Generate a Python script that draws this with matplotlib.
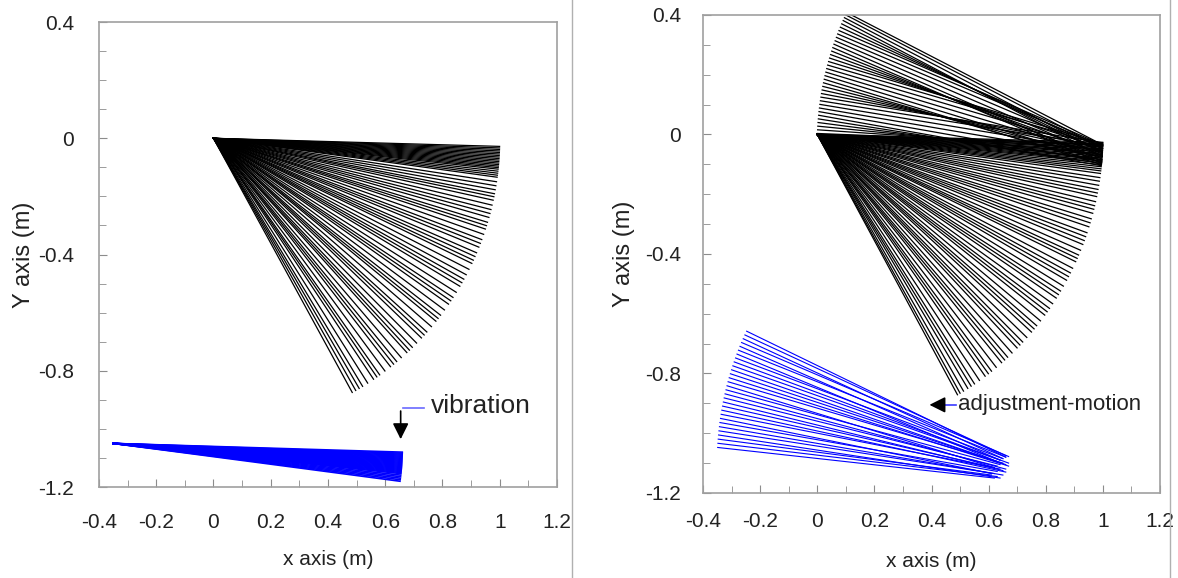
import numpy as np
import matplotlib
matplotlib.use("Agg")
import matplotlib.pyplot as plt
from matplotlib.lines import Line2D

plt.rcParams['font.family'] = ['Liberation Sans', 'DejaVu Sans']
plt.rcParams['axes.unicode_minus'] = False

# ---- datos (angulos en grados, longitudes en m) ----
# panel izquierdo: brazo negro desde el origen (L=1)
left_black = [-1.6, -1.9, -2.2, -2.5, -2.8, -3.1, -3.4, -3.7, -4.0, -4.3, -4.6, -4.9, -5.2,
              -5.5, -5.8, -6.1, -6.5, -6.9, -7.3, -7.7, -8.6, -9.4, -10.2, -11.0, -11.6,
              -12.3, -13.3, -14.2, -15.0, -15.8, -16.8, -17.5, -18.2, -19.3, -20.4, -21.2,
              -22.0, -23.2, -24.0, -24.8, -25.5, -26.8, -28.0, -29.0, -29.8, -30.6, -32.0,
              -33.2, -34.0, -34.8, -36.2, -37.5, -38.3, -39.0, -40.4, -41.8, -42.6, -43.4,
              -44.8, -46.0, -46.8, -47.5, -49.0, -50.2, -51.0, -51.8, -53.2, -54.5, -55.2,
              -56.0, -57.4, -58.6, -59.4, -60.2, -61.0]
# panel izquierdo: barra azul (vibracion), pivote a la izquierda
left_blue_base = (-0.35, -1.05)
left_blue_len = 1.01
left_blue = [-1.7, -1.9, -2.1, -2.3, -2.5, -2.7, -2.9, -3.1, -3.3, -3.5, -3.7, -3.9, -4.1,
             -4.3, -4.5, -4.7, -4.9, -5.1, -5.3, -5.5, -5.7, -5.9, -6.2, -6.5, -6.8, -7.1, -7.4]

# panel derecho: brazo negro desde el origen
right_black = [-1.5, -1.8, -2.1, -2.4, -2.7, -3.0, -3.3, -3.6, -3.9, -4.2, -4.5, -4.8, -5.1,
               -5.4, -5.8, -6.2, -6.6, -7.0, -7.5, -8.3, -9.0, -9.8, -10.6, -11.3, -12.0,
               -13.0, -13.8, -14.5, -15.3, -16.4, -17.2, -18.0, -19.2, -20.0, -20.8, -21.6,
               -22.8, -23.8, -24.5, -25.2, -26.6, -27.6, -28.4, -29.2, -30.5, -31.6, -32.4,
               -33.2, -34.5, -35.6, -36.4, -37.2, -38.6, -39.8, -40.6, -41.4, -42.8, -44.0,
               -44.8, -45.6, -47.0, -48.2, -49.0, -49.8, -51.2, -52.4, -53.2, -54.0, -55.4,
               -56.6, -57.4, -58.2, -59.2, -60.0, -60.6]
# panel derecho: segundo tramo negro (codo disperso, punta sobre arco)
top_center = (1.0, -0.035)
top_tip = [177.8, 177.1, 176.4, 175.7, 175.0, 174.3, 173.6, 172.9, 172.2, 171.5, 170.8,
           170.1, 169.4, 168.7, 168.0, 167.3, 166.6, 165.9, 165.2, 164.5, 163.8, 163.1,
           162.4, 161.7, 161.0, 160.3, 159.6, 158.9, 158.2, 157.5, 156.8, 156.1, 155.4,
           154.8, 154.2, 153.7]
top_elbow = [-2.0, -2.8, -3.8, -4.8, -5.6, -6.0, -5.2, -4.2, -3.2, -2.2, -1.6, -2.4, -3.4,
             -4.4, -5.4, -5.8, -5.0, -4.0, -3.0, -2.1, -1.8, -2.7, -3.7, -4.7, -5.5, -5.1,
             -4.1, -3.1, -2.3, -2.0, -2.7, -3.5, -4.2, -3.4, -2.6, -2.0]
# panel derecho: barra azul (ajuste), extremo derecho disperso
blue_center = (0.65, -1.10)
blue_tip = [177.0, 176.2, 175.4, 174.6, 173.8, 173.0, 172.2, 171.4, 170.6, 169.8, 169.0,
            168.2, 167.4, 166.6, 165.8, 165.0, 164.2, 163.4, 162.6, 161.8, 161.0, 160.2,
            159.4, 158.6, 157.8, 157.0, 156.2, 155.4, 154.6, 153.8]
blue_end_x = [0.62, 0.63, 0.61, 0.64, 0.62, 0.65, 0.63, 0.61, 0.64, 0.66, 0.62, 0.65, 0.63,
              0.66, 0.64, 0.62, 0.65, 0.67, 0.63, 0.66, 0.64, 0.67, 0.65, 0.63, 0.66, 0.64,
              0.67, 0.65, 0.66, 0.66]
blue_end_y = [-1.150, -1.145, -1.140, -1.150, -1.135, -1.140, -1.128, -1.135, -1.120,
              -1.130, -1.115, -1.125, -1.110, -1.120, -1.105, -1.115, -1.100, -1.110,
              -1.095, -1.105, -1.090, -1.100, -1.085, -1.095, -1.080, -1.090, -1.078,
              -1.085, -1.075, -1.080]

xticks = [-0.4, -0.2, 0, 0.2, 0.4, 0.6, 0.8, 1, 1.2]
yticks = [-1.2, -0.8, -0.4, 0, 0.4]

txt = '#222222'
grey = '#8c8c8c'


def d2xy(a):
    a = np.radians(a)
    return np.cos(a), np.sin(a)


def base_axes(fig, rect, xpad, ypad, xlp, ylp):
    ax = fig.add_axes(rect)
    ax.set_xlim(-0.4, 1.2)
    ax.set_ylim(-1.2, 0.4)
    ax.set_xticks(xticks)
    ax.set_xticklabels(['%g' % t for t in xticks])
    ax.set_yticks(yticks)
    ax.set_yticklabels(['%g' % t for t in yticks])
    ax.set_xticks(np.arange(-0.3, 1.2, 0.2), minor=True)
    ax.set_yticks([-1.1, -1.0, -0.9, -0.7, -0.6, -0.5, -0.3, -0.2, -0.1, 0.1, 0.2, 0.3], minor=True)
    ax.tick_params(which='both', direction='in', color=grey, labelsize=15, labelcolor=txt,
                   top=False, right=False)
    ax.tick_params(axis='x', which='both', pad=xpad)
    ax.tick_params(axis='y', which='both', pad=ypad)
    ax.tick_params(which='major', length=6)
    ax.tick_params(which='minor', length=5)
    for s in ax.spines.values():
        s.set_color('#a0a0a0')
        s.set_linewidth(1.2)
    ax.set_xlabel('x axis (m)', fontsize=15, color=txt, labelpad=xlp)
    ax.set_ylabel('Y axis (m)', fontsize=17, color=txt, labelpad=ylp)
    return ax


fig = plt.figure(figsize=(11.78, 5.78), dpi=100)

# ---------------- panel izquierdo ----------------
ax1 = base_axes(fig, [0.0840, 0.1574, 0.3888, 0.8045], 19, 18, 13, 2)
for a in left_black:
    cx, cy = d2xy(a)
    ax1.plot([0, cx], [0, cy], color='k', lw=0.9)
for a in left_blue:
    cx, cy = d2xy(a)
    bx, by = left_blue_base
    ax1.plot([bx, bx + left_blue_len * cx], [by, by + left_blue_len * cy], color='#0000ff', lw=1.2)

ax1.plot([0.661, 0.735], [-0.929, -0.929], color='#6a6aff', lw=1.2)
ax1.annotate('', xy=(0.654, -1.045), xytext=(0.654, -0.929),
             arrowprops=dict(arrowstyle='-|>', color='k', lw=1.2, mutation_scale=24))
ax1.text(0.758, -0.92, 'vibration', fontsize=19, color=txt, va='center', ha='left')

# ---------------- panel derecho ----------------
ax2 = base_axes(fig, [0.5968, 0.1471, 0.3879, 0.8270], 14, 16, 15, 7)
for a in right_black:
    cx, cy = d2xy(a)
    ax2.plot([0, cx], [0, cy], color='k', lw=0.9)
for a, e in zip(top_tip, top_elbow):
    ex, ey = d2xy(e)
    tx, ty = d2xy(a)
    ax2.plot([ex, top_center[0] + tx], [ey, top_center[1] + ty], color='k', lw=0.9)
for a, x0, y0 in zip(blue_tip, blue_end_x, blue_end_y):
    tx, ty = d2xy(a)
    ax2.plot([x0, blue_center[0] + tx], [y0, blue_center[1] + ty], color='#0000ff', lw=0.8)

ax2.plot([0.41, 0.487], [-0.905, -0.905], color='#3a3aff', lw=1.2)
ax2.annotate('', xy=(0.383, -0.905), xytext=(0.43, -0.905),
             arrowprops=dict(arrowstyle='-|>', color='k', lw=1.2, mutation_scale=24))
ax2.text(0.493, -0.905, 'adjustment-motion', fontsize=16, color=txt, va='center', ha='left')

# separadores verticales de la figura original
fig.add_artist(Line2D([572 / 1178, 572 / 1178], [0, 1], color='#b0b0b0', lw=1.0))
fig.add_artist(Line2D([1170 / 1178, 1170 / 1178], [0, 1], color='#b0b0b0', lw=1.0))

fig.savefig('out.png', dpi=100)
